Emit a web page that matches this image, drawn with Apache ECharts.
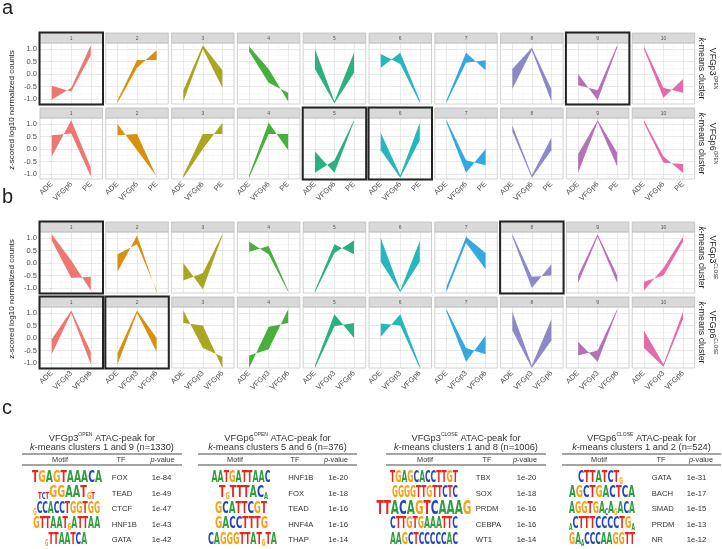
<!DOCTYPE html>
<html><head><meta charset="utf-8">
<script src="https://cdn.jsdelivr.net/npm/echarts@6/dist/echarts.min.js"></script>
<style>html,body{margin:0;padding:0;background:#fff}#c{width:722px;height:549px}</style>
</head><body><div id="c"></div>
<script>
// ---------------- DATA ----------------
const clusterLabels = ['1','2','3','4','5','6','7','8','9','10'];
const xCatsOpen = ['ADE','VFGp6','PE'];
const xCatsClose = ['ADE','VFGp3','VFGp6'];
const yTickValues = [-1, -0.5, 0, 0.5, 1];

// Each ribbon is the area between line A and line B (z-scored values at the 3 stages)
const open3A = [[-0.47,-0.70,0.75],[-1.05,0.56,0.56],[-0.65,1.15,0.15],[1.10,0.20,-1.10],[1.00,-1.10,0.85],
                [0.80,0.40,-1.15],[-1.05,0.85,0.15],[0.20,1.05,-0.60],[0.00,-1.05,1.05],[1.10,-0.55,-0.75]];
const open3B = [[-1.03,-0.55,1.15],[-1.15,0.25,0.95],[-1.10,1.00,-0.55],[0.90,-0.35,-0.75],[0.20,-1.17,0.05],
                [0.25,0.85,-1.05],[-1.15,0.45,0.55],[-0.60,0.95,-1.10],[-0.45,-0.65,1.15],[1.00,-0.95,-0.20]];
const open6A = [[0.55,0.62,-1.10],[1.00,-0.05,-1.10],[-1.05,0.60,0.60],[-1.05,1.05,-0.05],[-0.10,-0.95,1.10],
                [0.65,-1.05,1.05],[1.15,-0.45,-0.65],[0.95,-1.05,0.45],[-0.20,1.15,-0.15],[1.15,-0.30,-0.95]];
const open6B = [[-0.30,1.15,-0.75],[0.55,0.60,-1.12],[-1.15,0.00,1.05],[-1.15,0.60,0.60],[-0.95,-0.45,1.15],
                [-0.05,-1.15,0.35],[1.05,-0.95,0.00],[0.70,-1.15,-0.05],[-0.95,1.08,-0.70],[1.05,-0.55,-0.60]];
const close3A = [[1.15,0.10,-1.10],[0.35,0.75,-1.10],[0.00,-1.05,1.10],[0.85,0.35,-1.15],[-1.10,0.75,0.35],
                 [1.00,-1.10,0.88],[-0.95,1.05,0.40],[1.15,-0.55,-0.50],[-0.50,1.15,-0.50],[-0.75,-0.50,0.85]];
const close3B = [[0.90,-0.60,-0.55],[-0.35,1.10,-1.18],[-0.70,-0.40,1.15],[0.45,0.68,-1.10],[-1.18,0.40,0.90],
                 [0.05,-1.16,0.05],[-1.15,0.80,-0.25],[1.05,-1.00,-0.05],[-0.80,1.05,-0.80],[-1.10,-0.20,1.05]];
const close6A = [[-0.05,1.10,-0.55],[-0.60,1.10,0.00],[1.10,-0.40,-0.75],[-0.70,-0.45,1.15],[-1.10,0.95,0.00],
                 [0.58,0.50,-1.20],[1.15,-0.40,-0.65],[1.05,-1.10,0.75],[-0.15,-0.95,1.10],[0.30,-1.05,1.05]];
const close6B = [[-0.65,1.00,-1.05],[-1.05,1.00,-0.55],[0.60,0.50,-1.20],[-1.20,0.45,0.60],[-1.20,0.47,0.60],
                 [0.05,0.95,-1.10],[1.05,-0.95,0.10],[0.30,-1.20,-0.10],[-0.70,-0.50,1.15],[-0.40,-1.15,0.75]];
const open3Boxed = [1, 9];
const open6Boxed = [5, 6];
const close3Boxed = [1, 8];
const close6Boxed = [1, 2];

// Motif tables
const t1Title = ['VFGp3', 'OPEN', '1 and 9', '1330'];
const t1Motifs = ['TGAGTAAACA','tctGGAATgt','gCCACCTGGTGG','GTTAATgATTAA','gTTAATCA'];
const t1TF = ['FOX','TEAD','CTCF','HNF1B','GATA'];
const t1P = ['1e-84','1e-49','1e-47','1e-43','1e-42'];
const t2Title = ['VFGp6', 'OPEN', '5 and 6', '376'];
const t2Motifs = ['AATGATTAAC','TgTTTACa','GCATTCGT','GACCTTTG','CAGGGTTATgTA'];
const t2TF = ['HNF1B','FOX','TEAD','HNF4A','THAP'];
const t2P = ['1e-20','1e-18','1e-16','1e-16','1e-14'];
const t3Title = ['VFGp3', 'CLOSE', '1 and 8', '1006'];
const t3Motifs = ['TGAGCACCTTGT','GGGGTTGTTCTC','TTACAGTCAAAG','CTTGTGAAATTC','AAGCTCCCCCAC'];
const t3TF = ['TBX','SOX','PRDM','CEBPA','WT1'];
const t3P = ['1e-20','1e-18','1e-16','1e-16','1e-14'];
const t4Title = ['VFGp6', 'CLOSE', '1 and 2', '524'];
const t4Motifs = ['CTTATCTg','AGCTGACTCA','AGGTGAcAgACA','aCTTTCCCCTGa','GAaCCCAAGGTT'];
const t4TF = ['GATA','BACH','SMAD','PRDM','NR'];
const t4P = ['1e-31','1e-17','1e-15','1e-13','1e-12'];

// ---------------- STYLE / LAYOUT ----------------
const palette = ['#EF7771','#D8900E','#A9A621','#47AF3B','#2BB17F','#25B8BA','#34A9E1','#8D89C8','#B571B6','#E56AAA'];
const FONT = "'Liberation Sans', Arial, Helvetica, sans-serif";
const LOGO_FONT = "'Liberation Sans Narrow', 'DejaVu Sans Condensed', 'Liberation Sans', sans-serif";
const LETTER_COLORS = {A:'#2E9E3E', C:'#2446B8', G:'#F4A21A', T:'#E3261F'};
const PW = 62.5, PITCH = 65.8, LEFT0 = 40, PH = 61, STRIP = 10;

const rows = [
  {A: open3A, B: open3B, cats: xCatsOpen, boxed: open3Boxed, name: 'VFGp3', state: 'OPEN', top: 43, bottom: false},
  {A: open6A, B: open6B, cats: xCatsOpen, boxed: open6Boxed, name: 'VFGp6', state: 'OPEN', top: 118, bottom: true},
  {A: close3A, B: close3B, cats: xCatsClose, boxed: close3Boxed, name: 'VFGp3', state: 'CLOSE', top: 232, bottom: false},
  {A: close6A, B: close6B, cats: xCatsClose, boxed: close6Boxed, name: 'VFGp6', state: 'CLOSE', top: 307, bottom: true}
];

const majorGrid = {color:'#e4e4e4', width:0.8, type:'solid'};
const minorGrid = {color:'#f2f2f2', width:0.5, type:'solid'};
const gridMarks = [];
yTickValues.forEach(v => gridMarks.push({yAxis: v, lineStyle: majorGrid}));
[-0.75,-0.25,0.25,0.75].forEach(v => gridMarks.push({yAxis: v, lineStyle: minorGrid}));
[0,1,2].forEach(v => gridMarks.push({xAxis: v, lineStyle: majorGrid}));
[0.5,1.5].forEach(v => gridMarks.push({xAxis: v, lineStyle: minorGrid}));

// ribbon polygon: line A forward, line B backward (crossing lines give bow-ties)
function ribbonRender(color) {
  return function (params, api) {
    const pts = [];
    for (let i = 0; i < 3; i++) pts.push(api.coord([i, api.value(i)]));
    for (let i = 2; i >= 0; i--) pts.push(api.coord([i, api.value(3 + i)]));
    return {type: 'polygon', shape: {points: pts}, style: {fill: color, stroke: null}};
  };
}

const grid = [], xAxis = [], yAxis = [], series = [], graphic = [];
let k = 0;
rows.forEach((row, r) => {
  const T = row.top;
  for (let c = 0; c < 10; c++) {
    const L = LEFT0 + c * PITCH;
    grid.push({left: L, top: T, width: PW, height: PH});
    const cats = row.cats;
    xAxis.push({
      type: 'value', gridIndex: k, min: -0.6, max: 2.6,
      axisLine: {show: false}, splitLine: {show: false},
      axisTick: {show: row.bottom, customValues: [0,1,2], length: 2, lineStyle: {color: '#444', width: 0.7}},
      axisLabel: {show: row.bottom, customValues: [0,1,2], rotate: 45, margin: 4, fontSize: 7.5,
        fontFamily: FONT, color: '#4d4d4d',
        formatter: v => (Math.abs(v - Math.round(v)) < 1e-6 && cats[Math.round(v)]) ? cats[Math.round(v)] : ''}
    });
    yAxis.push({
      type: 'value', gridIndex: k, min: -1.2, max: 1.24,
      axisLine: {show: false}, splitLine: {show: false},
      axisTick: {show: c === 0, customValues: yTickValues, length: 2, lineStyle: {color: '#444', width: 0.7}},
      axisLabel: {show: c === 0, customValues: yTickValues, margin: 3, fontSize: 7.5, fontFamily: FONT, color: '#4d4d4d',
        formatter: v => yTickValues.some(t => Math.abs(t - v) < 1e-6) ? v.toFixed(1) : ''}
    });
    const A = row.A[c], B = row.B[c];
    // invisible carrier for the panel gridlines (drawn beneath the ribbon)
    series.push({
      type: 'line', xAxisIndex: k, yAxisIndex: k,
      data: A.map((v, i) => [i, v]), symbol: 'none', silent: true,
      lineStyle: {opacity: 0}, z: 1,
      markLine: {z: 1, silent: true, symbol: 'none', label: {show: false}, animation: false, data: gridMarks}
    });
    series.push({
      type: 'custom', xAxisIndex: k, yAxisIndex: k, silent: true, z: 4, clip: true,
      data: [A.concat(B)], renderItem: ribbonRender(palette[c])
    });
    // strip, borders
    graphic.push({type: 'rect', silent: true, z: 100, shape: {x: L, y: T - STRIP, width: PW, height: STRIP},
      style: {fill: '#d9d9d9', stroke: '#bdbdbd', lineWidth: 0.8}});
    graphic.push({type: 'text', silent: true, z: 101, x: L + PW / 2, y: T - STRIP / 2 + 0.5,
      style: {text: clusterLabels[c], fontSize: 5, fontFamily: FONT, fill: '#555', align: 'center', verticalAlign: 'middle'}});
    graphic.push({type: 'rect', silent: true, z: 100, shape: {x: L, y: T, width: PW, height: PH},
      style: {fill: 'none', stroke: '#c6c6c6', lineWidth: 0.8}});
    if (row.boxed.includes(c + 1)) {
      graphic.push({type: 'rect', silent: true, z: 102, shape: {x: L - 0.5, y: T - STRIP - 0.5, width: PW + 1, height: PH + STRIP + 1},
        style: {fill: 'none', stroke: '#222', lineWidth: 2}});
    }
    k++;
  }
  // right-side row label
  graphic.push({type: 'text', silent: true, z: 101, x: 707, y: T + (PH - STRIP) / 2, rotation: -Math.PI / 2,
    style: {text: row.name + '{sup|' + row.state + '}\n{it|k}-means cluster', fontSize: 8.8, fontFamily: FONT, fill: '#222',
      align: 'center', verticalAlign: 'middle', lineHeight: 11,
      rich: {sup: {fontSize: 4.8, fontFamily: FONT, fill: '#222', verticalAlign: 'top', lineHeight: 11},
             it: {fontStyle: 'italic', fontSize: 8.8, fontFamily: FONT, fill: '#222', lineHeight: 11}}}});
});

// y axis titles and panel letters
[110, 299].forEach(cy => graphic.push({type: 'text', silent: true, x: 12, y: cy, rotation: Math.PI / 2,
  style: {text: 'z-scored log10 normalized counts', fontSize: 8, fontFamily: FONT, fill: '#222', align: 'center', verticalAlign: 'middle'}}));
[['a', 8], ['b', 197], ['c', 408]].forEach(([t, cy]) => graphic.push({type: 'text', silent: true, x: 2, y: cy,
  style: {text: t, fontSize: 20, fontFamily: FONT, fill: '#222', align: 'left', verticalAlign: 'middle'}}));

// ---------------- TABLES ----------------
const meas = document.createElement('canvas').getContext('2d');
function logoElement(seq, cx, cy, targetW, fs) {
  const rich = {};
  let width = 0;
  let text = '';
  for (const ch of seq) {
    const up = ch.toUpperCase();
    const size = ch !== up ? fs * 0.55 : fs;
    meas.font = 'bold ' + size + 'px ' + LOGO_FONT;
    width += meas.measureText(up).width;
    rich[ch] = {fontSize: size, fontWeight: 'bold', fontFamily: LOGO_FONT, fill: LETTER_COLORS[up], verticalAlign: 'bottom', lineHeight: fs};
    text += '{' + ch + '|' + up + '}';
  }
  return {type: 'text', silent: true, x: cx, y: cy, scaleX: targetW / width, scaleY: 1.0,
    style: {text: text, rich: rich, align: 'center', verticalAlign: 'middle', fontSize: fs, fontFamily: LOGO_FONT, lineHeight: fs}};
}
const tables = [
  {title: t1Title, motifs: t1Motifs, tf: t1TF, p: t1P, x0: 22, x1: 182, hM: 60, hTF: 121, hP: 162.5, tfX: 111.7, pX: 151.7,
   logoX: [67, 66.5, 66.7, 66.7, 66], logoW: [70, 57, 67, 67, 42], logoFs: [15,15,15,15,15]},
  {title: t2Title, motifs: t2Motifs, tf: t2TF, p: t2P, x0: 198, x1: 357, hM: 235, hTF: 295, hP: 336, tfX: 288.3, pX: 328.3,
   logoX: [241, 243.5, 241, 241.5, 242.5], logoW: [59, 49, 52, 53, 69], logoFs: [15,15,15,15,15]},
  {title: t3Title, motifs: t3Motifs, tf: t3TF, p: t3P, x0: 386, x1: 546, hM: 425, hTF: 487, hP: 525, tfX: 475.7, pX: 516.7,
   logoX: [424, 425, 424, 424, 424], logoW: [68, 66, 95, 68, 68], logoFs: [15,15,20,15,15]},
  {title: t4Title, motifs: t4Motifs, tf: t4TF, p: t4P, x0: 562, x1: 721, hM: 599, hTF: 661, hP: 701, tfX: 651.7, pX: 686.7,
   logoX: [600.5, 602, 602, 602, 602], logoW: [45, 66, 66, 66, 66], logoFs: [15,15,15,15,15]}
];
const rowY = [478, 493.5, 509, 524.5, 540];
tables.forEach(t => {
  const cx = (t.x0 + t.x1) / 2;
  graphic.push({type: 'text', silent: true, x: cx, y: 438, style: {
    text: t.title[0] + '{sup|' + t.title[1] + '} ATAC-peak for', fontSize: 9.3, fontFamily: FONT, fill: '#333',
    align: 'center', verticalAlign: 'middle', lineHeight: 11,
    rich: {sup: {fontSize: 5, fontFamily: FONT, fill: '#333', verticalAlign: 'top', lineHeight: 11}}}});
  graphic.push({type: 'text', silent: true, x: cx, y: 447.5, style: {
    text: '{it|k}-means clusters ' + t.title[2] + ' (n=' + t.title[3] + ')', fontSize: 9.3, fontFamily: FONT, fill: '#333',
    align: 'center', verticalAlign: 'middle', rich: {it: {fontStyle: 'italic', fontSize: 9.3, fontFamily: FONT, fill: '#333'}}}});
  graphic.push({type: 'line', silent: true, shape: {x1: t.x0, y1: 454, x2: t.x1, y2: 454}, style: {stroke: '#333', lineWidth: 0.9}});
  graphic.push({type: 'line', silent: true, shape: {x1: t.x0, y1: 465, x2: t.x1, y2: 465}, style: {stroke: '#333', lineWidth: 0.9}});
  const hdr = {fontSize: 7.3, fontFamily: FONT, fill: '#333', align: 'center', verticalAlign: 'middle'};
  graphic.push({type: 'text', silent: true, x: t.hM, y: 459.8, style: Object.assign({text: 'Motif'}, hdr)});
  graphic.push({type: 'text', silent: true, x: t.hTF, y: 459.8, style: Object.assign({text: 'TF'}, hdr)});
  graphic.push({type: 'text', silent: true, x: t.hP, y: 459.8, style: Object.assign({text: '{it|p}-value',
    rich: {it: {fontStyle: 'italic', fontSize: 7.3, fontFamily: FONT, fill: '#333'}}}, hdr)});
  t.motifs.forEach((m, i) => {
    graphic.push(logoElement(m, t.logoX[i], rowY[i], t.logoW[i], t.logoFs[i]));
    graphic.push({type: 'text', silent: true, x: t.tfX, y: rowY[i], style: {text: t.tf[i], fontSize: 7.7, fontFamily: FONT, fill: '#333', align: 'left', verticalAlign: 'middle'}});
    graphic.push({type: 'text', silent: true, x: t.pX, y: rowY[i], style: {text: t.p[i], fontSize: 7.7, fontFamily: FONT, fill: '#333', align: 'left', verticalAlign: 'middle'}});
  });
});

const chart = echarts.init(document.getElementById('c'), null, {renderer: 'canvas', width: 722, height: 549});
chart.setOption({
  animation: false,
  backgroundColor: '#ffffff',
  grid: grid, xAxis: xAxis, yAxis: yAxis, series: series, graphic: graphic
});
</script></body></html>
